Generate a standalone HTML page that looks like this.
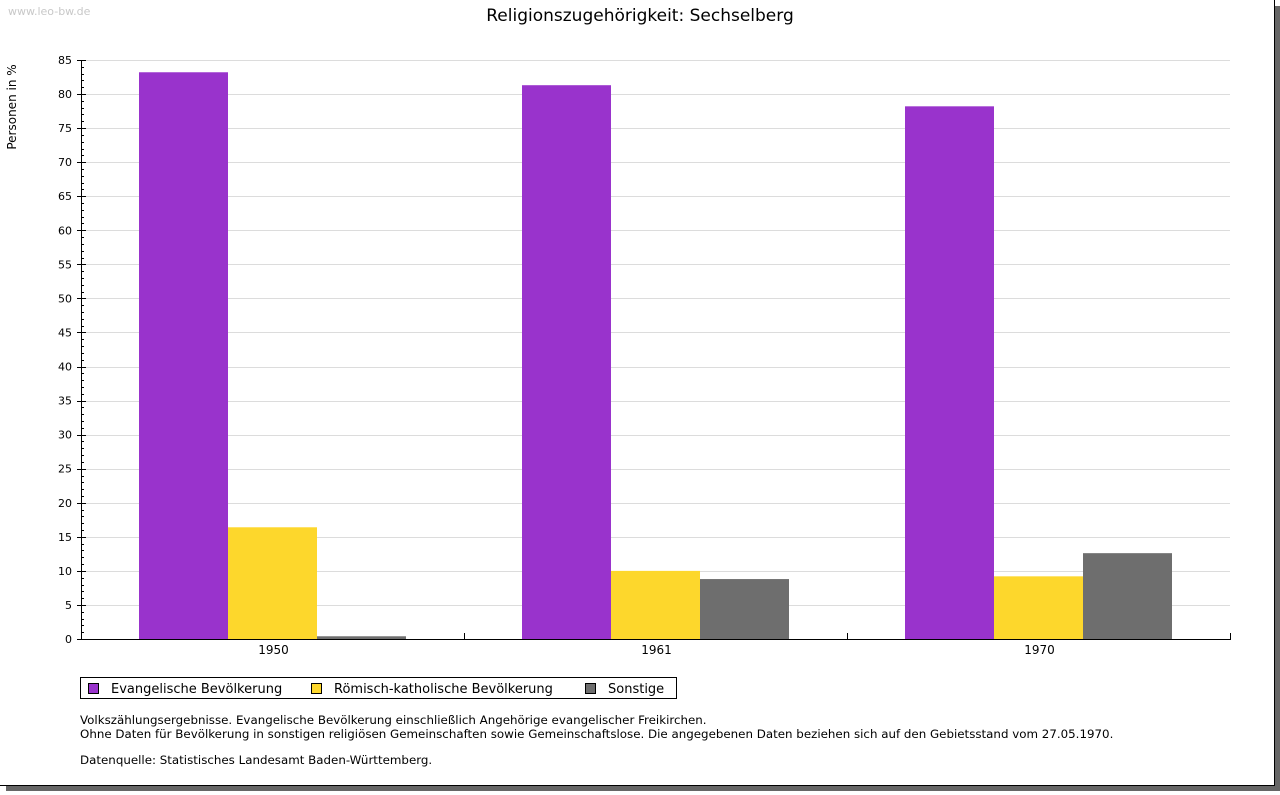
<!DOCTYPE html>
<html><head><meta charset="utf-8"><style>
body{margin:0;background:#fff;width:1280px;height:791px;overflow:hidden;font-family:"DejaVu Sans","Liberation Sans",sans-serif}
</style></head><body>
<svg width="1280" height="791" xmlns="http://www.w3.org/2000/svg" font-family="DejaVu Sans, Liberation Sans, sans-serif">
<rect x="1275" y="6" width="5" height="785" fill="#666"/>
<rect x="6" y="786" width="1274" height="5" fill="#666"/>
<line x1="1274.5" y1="0" x2="1274.5" y2="786" stroke="#000"/>
<line x1="0" y1="785.5" x2="1275" y2="785.5" stroke="#000"/>
<text x="8" y="15" font-size="11" fill="#c8c8c8">www.leo-bw.de</text>
<text x="640" y="21" font-size="17" text-anchor="middle" fill="#000">Religionszugehörigkeit: Sechselberg</text>
<text transform="translate(16,107) rotate(-90)" font-size="12" text-anchor="middle">Personen in %</text>
<g id="grid"></g><g id="bars"></g><g id="axes"></g>
<g>
<rect x="80.5" y="677.5" width="596" height="21" fill="#fff" stroke="#000"/>
<rect x="88.5" y="683.5" width="10" height="10" fill="#9933cc" stroke="#000"/>
<text x="111" y="693" font-size="13">Evangelische Bevölkerung</text>
<rect x="311.5" y="683.5" width="10" height="10" fill="#fdd72c" stroke="#000"/>
<text x="334" y="693" font-size="13">Römisch-katholische Bevölkerung</text>
<rect x="585.5" y="683.5" width="10" height="10" fill="#6e6e6e" stroke="#000"/>
<text x="608" y="693" font-size="13">Sonstige</text>
</g>
<g font-size="11.85">
<text x="80" y="724">Volkszählungsergebnisse. Evangelische Bevölkerung einschließlich Angehörige evangelischer Freikirchen.</text>
<text x="80" y="738">Ohne Daten für Bevölkerung in sonstigen religiösen Gemeinschaften sowie Gemeinschaftslose. Die angegebenen Daten beziehen sich auf den Gebietsstand vom 27.05.1970.</text>
<text x="80" y="764">Datenquelle: Statistisches Landesamt Baden-Württemberg.</text>
</g>
</svg>
<script>
const categories=["1950","1961","1970"];
const evangelisch=[83.2,81.3,78.2];
const katholisch=[16.4,10.0,9.2];
const sonstige=[0.4,8.8,12.6];
const yTicks=[0,5,10,15,20,25,30,35,40,45,50,55,60,65,70,75,80,85];
const NS="http://www.w3.org/2000/svg";
const X0=81,X1=1230,Y0=639,Y1=60,YMAX=85;
const y=v=>Y0-(v/YMAX)*(Y0-Y1);
const gw=(X1-X0)/categories.length;
const x=i=>X0+gw*i;
function mk(tag,attrs,parent){const e=document.createElementNS(NS,tag);for(const k in attrs)e.setAttribute(k,attrs[k]);document.getElementById(parent).appendChild(e);return e;}
yTicks.forEach(t=>{
 if(t>0){const g=mk('line',{x1:X0,x2:X1,y1:Math.round(y(t))+.5,y2:Math.round(y(t))+.5,stroke:'#dcdcdc'},'grid');
 
 }
 const tk=mk('line',{x1:X0-4,x2:X0+5,y1:Math.round(y(t))+.5,y2:Math.round(y(t))+.5,stroke:'#000'},'axes');
 
 
 const lb=mk('text',{x:X0-9,y:y(t)+4,'font-size':11,'text-anchor':'end'},'axes');lb.textContent=t;
 
 
});
for(let v=1;v<YMAX;v++){if(v%5===0)continue;const m=mk('line',{x1:X0,x2:X0+3,y1:Math.round(y(v))+.5,y2:Math.round(y(v))+.5,stroke:'#000'},'axes');
 
 }
const series=[[evangelisch,'#9933cc','evangelisch'],[katholisch,'#fdd72c','katholisch'],[sonstige,'#6e6e6e','sonstige']];
const bw=89,off=57.5;
categories.forEach((c,i)=>{
 series.forEach(([arr,col,nm],s)=>{
  const bx=Math.round(x(i)+off+s*bw);
  const r=mk('rect',{x:bx,y:y(arr[i]),width:bw,height:Y0-y(arr[i]),fill:col},'bars');
  
  
 });
 const l=mk('text',{x:x(i)+gw/2+1,y:654,'font-size':12,'text-anchor':'middle'},'axes');l.textContent=c;
 
 
 const t=mk('line',{x1:Math.round(x(i+1))+.5,x2:Math.round(x(i+1))+.5,y1:Y0-6,y2:Y0,stroke:'#000'},'axes');
 
 
});
const ax=mk('line',{x1:X0+.5,x2:X0+.5,y1:Y1,y2:Y0+1,stroke:'#000'},'axes');


const bx=mk('line',{x1:X0,x2:X1+1,y1:Y0+.5,y2:Y0+.5,stroke:'#000'},'axes');


</script>
</body></html>
